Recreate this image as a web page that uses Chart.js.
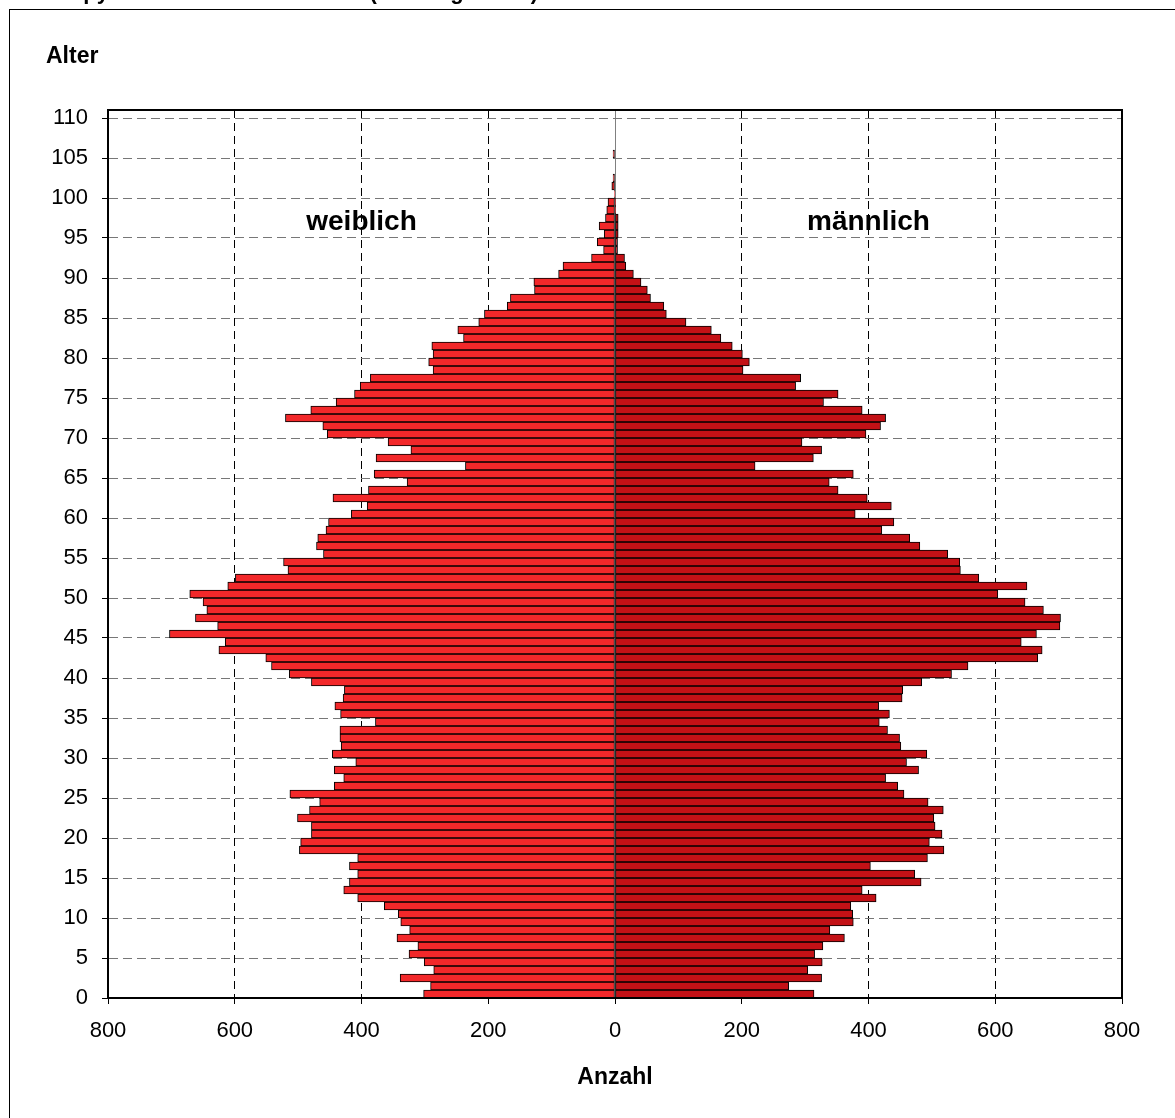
<!DOCTYPE html>
<html>
<head>
<meta charset="utf-8">
<title>Alterspyramide</title>
<style>
  html, body { margin: 0; padding: 0; background: #fff; }
  canvas { display: block; }
</style>
<script src="https://cdn.jsdelivr.net/npm/chart.js@4.4.1/dist/chart.umd.min.js"></script>
</head>
<body>
<canvas id="pyramid" width="1175" height="1118"></canvas>
<script>
// ages 0..105, one bar per year of age
const ages = [
  0, 1, 2, 3, 4, 5, 6, 7, 8, 9,
  10, 11, 12, 13, 14, 15, 16, 17, 18, 19,
  20, 21, 22, 23, 24, 25, 26, 27, 28, 29,
  30, 31, 32, 33, 34, 35, 36, 37, 38, 39,
  40, 41, 42, 43, 44, 45, 46, 47, 48, 49,
  50, 51, 52, 53, 54, 55, 56, 57, 58, 59,
  60, 61, 62, 63, 64, 65, 66, 67, 68, 69,
  70, 71, 72, 73, 74, 75, 76, 77, 78, 79,
  80, 81, 82, 83, 84, 85, 86, 87, 88, 89,
  90, 91, 92, 93, 94, 95, 96, 97, 98, 99,
  100, 101, 102, 103, 104, 105
];

const female = [
  302, 291, 339, 286, 301, 325, 311, 344, 324, 338,
  342, 364, 406, 428, 419, 406, 419, 406, 498, 496,
  479, 479, 501, 482, 466, 513, 443, 428, 443, 409,
  446, 432, 434, 434, 378, 433, 442, 429, 427, 479,
  514, 542, 551, 625, 615, 703, 627, 662, 644, 650,
  671, 611, 599, 516, 523, 460, 471, 469, 456, 452,
  416, 391, 445, 389, 328, 380, 236, 377, 322, 358,
  454, 461, 520, 480, 440, 411, 402, 386, 287, 294,
  287, 289, 239, 248, 215, 206, 170, 165, 127, 128,
  89, 82, 37, 18, 28, 17, 25, 15, 13, 11,
  1, 5, 3, 0, 0, 3
];

const male = [
  314, 274, 326, 304, 327, 315, 328, 362, 339, 376,
  375, 372, 412, 390, 483, 473, 403, 493, 519, 496,
  516, 505, 503, 518, 494, 456, 446, 427, 479, 460,
  492, 451, 449, 430, 417, 433, 416, 453, 454, 484,
  531, 557, 667, 674, 641, 665, 702, 703, 676, 647,
  604, 650, 574, 545, 544, 525, 481, 465, 421, 440,
  379, 436, 398, 352, 338, 376, 221, 313, 326, 295,
  396, 419, 427, 390, 329, 352, 285, 293, 202, 212,
  201, 185, 167, 152, 112, 81, 77, 56, 51, 41,
  29, 17, 15, 4, 4, 5, 5, 5, 1, 1,
  0, 0, 0, 0, 0, 0
];

const ageTicks = [0, 5, 10, 15, 20, 25, 30, 35, 40, 45, 50, 55, 60, 65, 70, 75, 80, 85, 90, 95, 100, 105, 110];
const countTicks = [-800, -600, -400, -200, 0, 200, 400, 600, 800];

const fontFamily = 'Arial, "Liberation Sans", sans-serif';
Chart.defaults.font.family = fontFamily;
Chart.defaults.color = '#000';

// bars sit between age a and a+1
const femalePoints = ages.map((a, i) => ({ x: -female[i], y: a + 0.5 }));
const malePoints = ages.map((a, i) => ({ x: male[i], y: a + 0.5 }));

const decorations = {
  id: 'decorations',
  beforeDraw(chart) {
    const ctx = chart.ctx;
    ctx.save();
    ctx.fillStyle = '#fff';
    ctx.fillRect(0, 0, chart.width, chart.height);
    ctx.strokeStyle = '#000';
    ctx.lineWidth = 1;
    ctx.strokeRect(9.5, 9.5, chart.width + 20, chart.height + 20);
    ctx.fillStyle = '#000';
    ctx.font = 'bold 22px ' + fontFamily;
    ctx.textBaseline = 'alphabetic';
    ctx.fillText('Alterspyramide nach Geschlecht (Stichtag 31.12.)', 21, -1);
    ctx.font = 'bold 23px ' + fontFamily;
    ctx.textBaseline = 'middle';
    ctx.fillText('Alter', 46, 57);
    ctx.restore();
  },
  afterDatasetsDraw(chart) {
    const { ctx, chartArea, scales } = chart;
    ctx.save();
    ctx.strokeStyle = '#000';
    ctx.lineWidth = 2;
    ctx.strokeRect(chartArea.left, chartArea.top, chartArea.right - chartArea.left, chartArea.bottom - chartArea.top);
    ctx.fillStyle = '#000';
    ctx.font = 'bold 28px ' + fontFamily;
    ctx.textAlign = 'center';
    ctx.textBaseline = 'middle';
    ctx.fillText('weiblich', scales.x.getPixelForValue(-400), scales.y.getPixelForValue(97));
    ctx.fillText('männlich', scales.x.getPixelForValue(400), scales.y.getPixelForValue(97));
    ctx.restore();
  }
};

new Chart(document.getElementById('pyramid'), {
  type: 'bar',
  data: {
    datasets: [
      {
        label: 'weiblich',
        data: femalePoints,
        backgroundColor: '#f2282a',
        borderColor: '#000',
        borderWidth: 1,
        borderSkipped: false,
        barPercentage: 1,
        categoryPercentage: 1
      },
      {
        label: 'männlich',
        data: malePoints,
        backgroundColor: '#c31116',
        borderColor: '#000',
        borderWidth: 1,
        borderSkipped: false,
        barPercentage: 1,
        categoryPercentage: 1
      }
    ]
  },
  options: {
    indexAxis: 'y',
    responsive: false,
    animation: false,
    devicePixelRatio: 1,
    layout: { padding: { left: 0, top: 110, right: 53, bottom: 0 } },
    plugins: {
      legend: { display: false },
      tooltip: { enabled: false }
    },
    scales: {
      x: {
        type: 'linear',
        stacked: true,
        min: -800,
        max: 800,
        afterBuildTicks(scale) {
          scale.ticks = countTicks.map((v) => ({ value: v }));
        },
        afterFit(scale) {
          scale.height = 120;
        },
        ticks: {
          font: { size: 22 },
          padding: 14,
          callback: (v) => Math.abs(v)
        },
        grid: {
          color: (c) => (c.tick && c.tick.value === 0 ? '#808080' : '#000'),
          lineWidth: 1,
          tickColor: '#000',
          tickLength: 6,
          tickBorderDash: []
        },
        border: {
          display: true,
          color: '#000',
          width: 2,
          dash: (c) => (c.tick && c.tick.value === 0 ? [] : [8, 5])
        },
        title: {
          display: true,
          text: 'Anzahl',
          font: { size: 23, weight: 'bold' },
          padding: { top: 0, bottom: 27 }
        }
      },
      y: {
        type: 'linear',
        stacked: true,
        offset: false,
        min: 0,
        max: 111,
        afterBuildTicks(scale) {
          scale.ticks = ageTicks.map((v) => ({ value: v }));
        },
        afterFit(scale) {
          scale.width = 108;
        },
        ticks: {
          font: { size: 22 },
          padding: 14
        },
        grid: {
          offset: false,
          color: '#777',
          lineWidth: 1,
          tickColor: '#000',
          tickLength: 6,
          tickBorderDash: []
        },
        border: {
          display: true,
          color: '#000',
          width: 2,
          dash: [9, 5]
        }
      }
    }
  },
  plugins: [decorations]
});
</script>
</body>
</html>
